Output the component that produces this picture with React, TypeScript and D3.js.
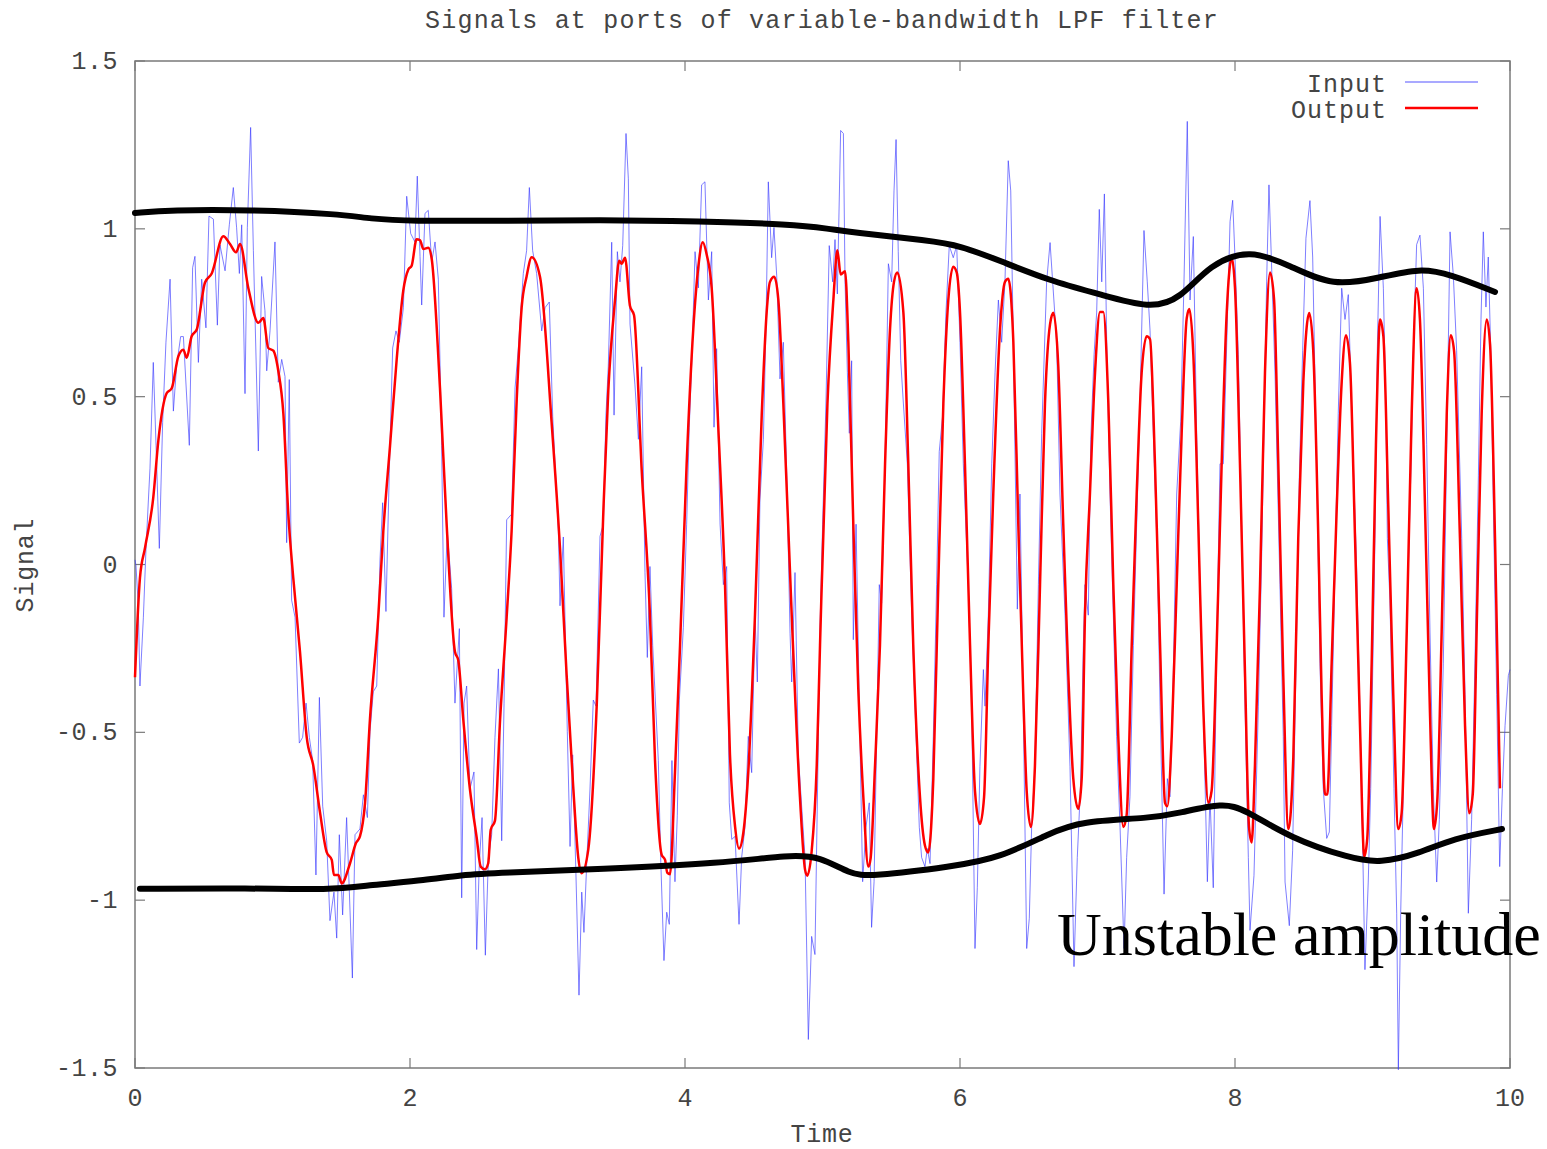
import React from 'react';
import * as d3 from 'd3';

// Values: [time, signal]
const xTicks = [0, 2, 4, 6, 8, 10];
const yTicks = [-1.5, -1, -0.5, 0, 0.5, 1, 1.5];

const inputSignal: [number, number][] = [
  [0, 0.014], [0.007, -0.003], [0.024, -0.123], [0.036, -0.362], [0.061, -0.157], [0.08, 0.048],
  [0.109, 0.287], [0.133, 0.602], [0.153, 0.355], [0.177, 0.048], [0.201, 0.423], [0.225, 0.662],
  [0.255, 0.85], [0.279, 0.457], [0.303, 0.594], [0.332, 0.679], [0.352, 0.679], [0.395, 0.355],
  [0.419, 0.884], [0.436, 0.918], [0.461, 0.602], [0.485, 0.85], [0.516, 0.705], [0.538, 1.038],
  [0.57, 1.029], [0.599, 0.713], [0.618, 0.952], [0.655, 0.875], [0.686, 1.012], [0.715, 1.123],
  [0.739, 1.003], [0.759, 0.867], [0.776, 1.012], [0.8, 0.509], [0.817, 1.003], [0.841, 1.302],
  [0.861, 0.935], [0.897, 0.338], [0.921, 0.858], [0.945, 0.756], [0.958, 0.577], [0.982, 0.696],
  [1.018, 0.961], [1.042, 0.543], [1.067, 0.611], [1.091, 0.56], [1.103, 0.065], [1.122, 0.551],
  [1.139, -0.106], [1.164, -0.157], [1.195, -0.532], [1.219, -0.515], [1.244, -0.413], [1.268, -0.515],
  [1.292, -0.584], [1.316, -0.925], [1.341, -0.396], [1.365, -0.72], [1.394, -0.823], [1.418, -1.061],
  [1.447, -0.976], [1.467, -1.113], [1.486, -0.805], [1.51, -1.044], [1.539, -0.754], [1.559, -0.976],
  [1.581, -1.232], [1.6, -0.805], [1.636, -0.788], [1.661, -0.686], [1.69, -0.754], [1.709, -0.498],
  [1.733, -0.379], [1.758, -0.362], [1.782, 0.014], [1.801, 0.184], [1.825, -0.14], [1.849, 0.27],
  [1.874, 0.645], [1.898, 0.696], [1.922, 0.662], [1.952, 0.765], [1.976, 1.097], [2.005, 0.986],
  [2.036, 0.961], [2.053, 1.157], [2.073, 0.918], [2.085, 0.773], [2.109, 1.046], [2.133, 1.055],
  [2.158, 0.901], [2.182, 0.961], [2.206, 0.85], [2.23, 0.355], [2.247, -0.157], [2.271, 0.099],
  [2.303, -0.072], [2.327, -0.413], [2.359, -0.191], [2.376, -0.993], [2.393, -0.413], [2.412, -0.362],
  [2.436, -0.669], [2.465, -0.618], [2.485, -1.147], [2.504, -0.891], [2.524, -0.754], [2.548, -1.164],
  [2.57, -0.874], [2.594, -0.805], [2.618, -0.515], [2.643, -0.311], [2.667, -0.823], [2.684, -0.413],
  [2.703, 0.133], [2.739, 0.15], [2.764, 0.526], [2.788, 0.645], [2.824, 0.867], [2.848, 0.935],
  [2.868, 1.123], [2.892, 0.935], [2.921, 0.867], [2.958, 0.696], [2.982, 0.765], [3.013, 0.782],
  [3.038, 0.44], [3.079, 0.099], [3.091, -0.123], [3.115, 0.082], [3.144, -0.498], [3.164, -0.84],
  [3.183, -0.567], [3.207, -0.925], [3.229, -1.283], [3.249, -0.976], [3.265, -1.096], [3.285, -0.891],
  [3.309, -0.669], [3.333, -0.404], [3.353, -0.422], [3.382, 0.084], [3.406, 0.12], [3.425, 0.445],
  [3.442, 0.589], [3.467, 0.96], [3.484, 0.445], [3.508, 0.932], [3.527, 0.842], [3.547, 0.95],
  [3.571, 1.284], [3.588, 1.149], [3.6, 0.716], [3.636, 0.535], [3.661, 0.373], [3.685, 0.589],
  [3.709, -0.024], [3.726, -0.277], [3.745, -0.006], [3.765, -0.241], [3.806, -0.584], [3.823, -0.873],
  [3.847, -1.18], [3.867, -1.036], [3.886, -1.072], [3.905, -0.584], [3.927, -0.945], [3.944, -0.747],
  [3.959, -0.404], [3.988, -0.187], [4.012, 0.12], [4.031, 0.409], [4.051, 0.625], [4.073, 0.932],
  [4.097, 0.824], [4.121, 1.131], [4.145, 1.14], [4.17, 0.788], [4.194, 0.932], [4.211, 0.409],
  [4.23, 0.643], [4.255, 0.12], [4.279, -0.06], [4.303, -0.006], [4.322, -0.71], [4.34, -0.819],
  [4.364, -0.81], [4.393, -1.072], [4.412, -0.873], [4.436, -0.783], [4.46, -0.512], [4.485, -0.62],
  [4.509, -0.151], [4.526, -0.35], [4.545, 0.192], [4.57, 0.373], [4.589, 0.716], [4.606, 1.14],
  [4.63, 0.914], [4.647, 1.004], [4.667, 0.86], [4.691, 0.553], [4.715, 0.662], [4.74, 0.264],
  [4.764, -0.205], [4.776, -0.35], [4.8, -0.024], [4.824, -0.566], [4.841, -0.674], [4.873, -0.873],
  [4.897, -1.415], [4.921, -1.108], [4.945, -1.162], [4.97, -0.512], [4.982, -0.187], [5.001, 0.12],
  [5.025, 0.481], [5.049, 0.95], [5.074, 0.842], [5.091, 0.968], [5.108, 0.806], [5.132, 1.293],
  [5.152, 1.284], [5.164, 0.842], [5.181, 0.571], [5.195, 0.391], [5.212, 0.607], [5.224, -0.224],
  [5.244, 0.12], [5.268, -0.422], [5.292, -0.945], [5.316, -0.783], [5.34, -0.71], [5.357, -1.081],
  [5.375, -0.945], [5.394, -0.512], [5.413, -0.06], [5.43, -0.115], [5.455, 0.3], [5.479, 0.896],
  [5.503, 0.842], [5.52, 1.113], [5.535, 1.266], [5.551, 0.932], [5.569, 0.607], [5.588, 0.481],
  [5.617, 0.3], [5.649, -0.151], [5.673, -0.422], [5.704, -0.783], [5.721, -0.873], [5.745, -0.9],
  [5.762, -0.846], [5.782, -0.891], [5.806, -0.512], [5.83, -0.06], [5.849, 0.336], [5.874, 0.445],
  [5.898, 0.752], [5.922, 0.95], [5.951, 0.914], [5.976, 0.95], [6.0, 0.662], [6.024, 0.3],
  [6.06, -0.06], [6.085, -0.422], [6.109, -1.144], [6.126, -0.963], [6.145, -0.602], [6.17, -0.313],
  [6.182, -0.422], [6.206, -0.151], [6.231, 0.3], [6.255, 0.571], [6.279, 0.788], [6.303, 0.662],
  [6.327, 0.842], [6.351, 1.203], [6.369, 1.113], [6.388, 0.662], [6.417, -0.133], [6.436, 0.21],
  [6.46, -0.422], [6.485, -1.144], [6.504, -1.054], [6.521, -0.783], [6.545, -0.602], [6.57, -0.06],
  [6.594, 0.391], [6.63, 0.842], [6.655, 0.959], [6.674, 0.842], [6.703, 0.662], [6.727, 0.21],
  [6.764, -0.151], [6.8, -0.602], [6.829, -1.198], [6.853, -0.873], [6.877, -0.656], [6.897, -0.241],
  [6.909, -0.06], [6.933, -0.151], [6.951, 0.373], [6.975, 0.625], [6.994, 0.752], [7.013, 1.058],
  [7.031, 0.842], [7.05, 1.104], [7.067, 0.662], [7.091, 0.21], [7.115, -0.151], [7.139, -0.512],
  [7.164, -0.783], [7.193, -1.144], [7.212, -0.873], [7.236, -0.692], [7.261, -0.241], [7.285, 0.12],
  [7.309, 0.481], [7.338, 0.995], [7.362, 0.842], [7.382, 0.698], [7.406, 0.391], [7.435, 0.03],
  [7.455, -0.422], [7.484, -0.982], [7.508, -0.638], [7.527, -0.692], [7.551, -0.331], [7.576, 0.21],
  [7.605, 0.427], [7.629, 0.842], [7.653, 1.32], [7.673, 0.788], [7.697, 0.977], [7.721, 0.391],
  [7.745, -0.06], [7.769, -0.422], [7.799, -0.945], [7.818, -0.692], [7.842, -0.963], [7.867, -0.241],
  [7.891, 0.3], [7.915, 0.3], [7.94, 0.662], [7.964, 1.022], [7.983, 1.085], [8.0, 0.914],
  [8.024, 0.625], [8.048, 0.12], [8.073, -0.422], [8.097, -0.873], [8.109, -1.09], [8.138, -0.927],
  [8.17, -0.422], [8.194, 0.03], [8.218, 0.571], [8.23, 0.842], [8.247, 1.131], [8.267, 0.878],
  [8.291, 0.571], [8.327, -0.06], [8.351, -0.512], [8.364, -0.946], [8.395, -1.076], [8.419, -0.853],
  [8.444, -0.294], [8.468, 0.264], [8.492, 0.637], [8.516, 0.972], [8.545, 1.084], [8.565, 0.916],
  [8.582, 0.544], [8.599, 0.171], [8.618, -0.294], [8.642, -0.667], [8.667, -0.816], [8.686, -0.797],
  [8.703, -0.48], [8.727, -0.015], [8.751, 0.451], [8.776, 0.823], [8.8, 0.73], [8.824, 0.804],
  [8.849, 0.451], [8.885, -0.015], [8.921, -0.667], [8.945, -1.207], [8.969, -0.946], [8.987, -0.667],
  [9.018, 0.078], [9.035, 0.637], [9.055, 1.037], [9.079, 0.823], [9.098, 0.451], [9.108, 0.078],
  [9.127, -0.108], [9.156, -0.667], [9.176, -1.039], [9.188, -1.505], [9.205, -1.039], [9.224, -0.667],
  [9.249, -0.201], [9.278, 0.264], [9.297, 0.637], [9.321, 0.953], [9.345, 0.981], [9.37, 0.823],
  [9.394, 0.358], [9.418, -0.201], [9.442, -0.667], [9.467, -0.946], [9.486, -0.76], [9.515, -0.294],
  [9.54, 0.358], [9.564, 0.991], [9.588, 0.86], [9.612, 0.637], [9.649, 0.078], [9.673, -0.387],
  [9.697, -1.039], [9.721, -0.76], [9.745, -0.294], [9.77, 0.264], [9.789, 0.73], [9.806, 0.991],
  [9.825, 0.767], [9.842, 0.916], [9.86, 0.637], [9.879, 0.171], [9.903, -0.387], [9.925, -0.9],
  [9.945, -0.667], [9.964, -0.48], [9.988, -0.331], [10.0, -0.313],
];

const outputSignal: [number, number][] = [
  [0, -0.336], [0.036, -0.04], [0.073, 0.05], [0.133, 0.2], [0.17, 0.37], [0.23, 0.51],
  [0.267, 0.525], [0.315, 0.62], [0.351, 0.64], [0.376, 0.616], [0.412, 0.68], [0.449, 0.7],
  [0.509, 0.84], [0.558, 0.867], [0.642, 0.978], [0.691, 0.955], [0.735, 0.93], [0.764, 0.955],
  [0.824, 0.824], [0.897, 0.72], [0.933, 0.734], [0.969, 0.645], [1.006, 0.637], [1.042, 0.577],
  [1.079, 0.449], [1.115, 0.15], [1.151, -0.04], [1.2, -0.26], [1.249, -0.515], [1.297, -0.6],
  [1.345, -0.737], [1.394, -0.857], [1.431, -0.88], [1.447, -0.925], [1.479, -0.925], [1.503, -0.95],
  [1.564, -0.89], [1.607, -0.83], [1.636, -0.81], [1.673, -0.71], [1.709, -0.46], [1.769, -0.157],
  [1.806, 0.1], [1.855, 0.355], [1.903, 0.61], [1.951, 0.816], [1.988, 0.879], [2.012, 0.89],
  [2.048, 0.969], [2.073, 0.966], [2.097, 0.94], [2.133, 0.944], [2.158, 0.91], [2.218, 0.526],
  [2.267, 0.116], [2.327, -0.26], [2.351, -0.285], [2.388, -0.464], [2.436, -0.67], [2.485, -0.814],
  [2.514, -0.9], [2.545, -0.908], [2.569, -0.89], [2.587, -0.79], [2.618, -0.763], [2.655, -0.464],
  [2.703, -0.157], [2.739, 0.1], [2.776, 0.49], [2.812, 0.765], [2.848, 0.858], [2.885, 0.915],
  [2.945, 0.858], [3.03, 0.423], [3.091, 0.048], [3.139, -0.328], [3.188, -0.669], [3.224, -0.874],
  [3.248, -0.92], [3.297, -0.848], [3.358, -0.42], [3.406, 0.156], [3.442, 0.517], [3.491, 0.788],
  [3.522, 0.905], [3.539, 0.896], [3.564, 0.914], [3.6, 0.77], [3.629, 0.743], [3.685, 0.282],
  [3.745, -0.15], [3.782, -0.584], [3.83, -0.864], [3.855, -0.88], [3.871, -0.918], [3.891, -0.923],
  [3.927, -0.62], [3.964, -0.24], [4.012, 0.3], [4.06, 0.7], [4.097, 0.887], [4.129, 0.96],
  [4.158, 0.923], [4.194, 0.824], [4.242, 0.41], [4.291, -0.06], [4.327, -0.566], [4.364, -0.78],
  [4.393, -0.846], [4.424, -0.8], [4.46, -0.62], [4.509, -0.15], [4.558, 0.445], [4.594, 0.752],
  [4.618, 0.842], [4.649, 0.857], [4.679, 0.788], [4.715, 0.481], [4.776, -0.15], [4.836, -0.693],
  [4.873, -0.909], [4.889, -0.927], [4.921, -0.855], [4.958, -0.6], [4.982, -0.24], [5.036, 0.48],
  [5.079, 0.788], [5.108, 0.936], [5.132, 0.864], [5.164, 0.874], [5.188, 0.663], [5.224, 0.12],
  [5.26, -0.368], [5.297, -0.693], [5.333, -0.9], [5.35, -0.875], [5.382, -0.6], [5.418, -0.24],
  [5.455, 0.3], [5.491, 0.7], [5.52, 0.842], [5.544, 0.87], [5.588, 0.752], [5.624, 0.3],
  [5.66, -0.24], [5.709, -0.693], [5.745, -0.837], [5.769, -0.858], [5.806, -0.638], [5.842, -0.06],
  [5.879, 0.48], [5.915, 0.788], [5.951, 0.887], [5.976, 0.87], [6.0, 0.752], [6.036, 0.3],
  [6.073, -0.24], [6.109, -0.675], [6.145, -0.773], [6.175, -0.693], [6.206, -0.24], [6.242, 0.21],
  [6.291, 0.7], [6.327, 0.842], [6.351, 0.851], [6.388, 0.663], [6.424, 0.12], [6.46, -0.386],
  [6.485, -0.675], [6.516, -0.782], [6.545, -0.6], [6.582, -0.06], [6.618, 0.48], [6.655, 0.716],
  [6.679, 0.75], [6.715, 0.589], [6.751, 0.12], [6.788, -0.33], [6.824, -0.638], [6.86, -0.728],
  [6.885, -0.638], [6.909, -0.15], [6.945, 0.21], [6.982, 0.571], [7.018, 0.752], [7.042, 0.752],
  [7.079, 0.48], [7.115, -0.06], [7.151, -0.511], [7.188, -0.782], [7.212, -0.746], [7.249, -0.24],
  [7.285, 0.21], [7.321, 0.571], [7.358, 0.68], [7.382, 0.671], [7.418, 0.3], [7.455, -0.24],
  [7.491, -0.71], [7.508, -0.72], [7.54, -0.511], [7.576, -0.06], [7.612, 0.39], [7.649, 0.734],
  [7.668, 0.761], [7.697, 0.625], [7.733, 0.12], [7.769, -0.42], [7.806, -0.71], [7.83, -0.674],
  [7.867, -0.24], [7.903, 0.3], [7.94, 0.752], [7.976, 0.914], [8.0, 0.824], [8.036, 0.3],
  [8.073, -0.33], [8.102, -0.782], [8.121, -0.828], [8.145, -0.6], [8.182, -0.06], [8.218, 0.571],
  [8.255, 0.87], [8.284, 0.79], [8.315, 0.3], [8.351, -0.33], [8.388, -0.788], [8.424, -0.574],
  [8.46, 0.078], [8.497, 0.544], [8.54, 0.749], [8.569, 0.637], [8.606, 0.078], [8.63, -0.387],
  [8.655, -0.685], [8.671, -0.685], [8.703, -0.294], [8.74, 0.17], [8.776, 0.544], [8.807, 0.683],
  [8.836, 0.6], [8.873, 0.078], [8.909, -0.48], [8.94, -0.87], [8.962, -0.815], [8.994, -0.294],
  [9.025, 0.357], [9.055, 0.73], [9.079, 0.68], [9.115, 0.17], [9.151, -0.387], [9.188, -0.788],
  [9.212, -0.74], [9.249, -0.2], [9.285, 0.45], [9.321, 0.823], [9.345, 0.73], [9.382, 0.17],
  [9.418, -0.443], [9.447, -0.788], [9.471, -0.704], [9.503, -0.2], [9.54, 0.45], [9.569, 0.683],
  [9.593, 0.637], [9.636, 0.078], [9.673, -0.48], [9.704, -0.741], [9.729, -0.685], [9.762, -0.108],
  [9.794, 0.45], [9.831, 0.73], [9.855, 0.655], [9.891, 0.078], [9.927, -0.667],
];

const upperEnvelope: [number, number][] = [
  [0, 1.047], [0.255, 1.056], [0.836, 1.057], [1.491, 1.044], [1.709, 1.03], [2.0, 1.023],
  [2.655, 1.024], [3.382, 1.027], [4.109, 1.022], [4.764, 1.014], [5.055, 1.0], [5.2, 0.99],
  [5.782, 0.965], [6.0, 0.95], [6.291, 0.905], [6.655, 0.845], [7.018, 0.805], [7.382, 0.762],
  [7.6, 0.79], [7.818, 0.895], [8.109, 0.94], [8.4, 0.89], [8.713, 0.827], [9.055, 0.855],
  [9.345, 0.883], [9.564, 0.865], [9.891, 0.812],
];

const lowerEnvelope: [number, number][] = [
  [0.036, -0.966], [0.836, -0.964], [1.418, -0.97], [1.709, -0.955], [2.124, -0.94], [2.364, -0.925],
  [2.655, -0.918], [3.382, -0.908], [4.276, -0.89], [4.764, -0.865], [4.982, -0.87], [5.2, -0.922],
  [5.345, -0.93], [5.949, -0.9], [6.291, -0.874], [6.655, -0.8], [6.873, -0.765], [7.382, -0.756],
  [7.6, -0.74], [7.913, -0.71], [8.073, -0.73], [8.4, -0.815], [8.836, -0.875], [9.055, -0.89],
  [9.345, -0.86], [9.585, -0.816], [9.942, -0.788],
];

const mono = "'Liberation Mono', 'DejaVu Sans Mono', monospace";
const axisColor = '#7a7a7a';
const textColor = '#444';

export default function App() {
  const x = d3.scaleLinear().domain([0, 10]).range([135, 1510]);
  const y = d3.scaleLinear().domain([-1.5, 1.5]).range([1068, 61]);
  const [x0, x1] = x.range();
  const [y0, y1] = y.range();
  const tickLen = 10;

  const rough = d3.line<[number, number]>().x(d => x(d[0])).y(d => y(d[1]));
  const smooth = d3.line<[number, number]>().x(d => x(d[0])).y(d => y(d[1])).curve(d3.curveMonotoneX);
  const envelope = d3.line<[number, number]>().x(d => x(d[0])).y(d => y(d[1])).curve(d3.curveBasis);

  return (
    <svg width={1547} height={1149} style={{ position: 'absolute', left: 0, top: 0, background: '#fff' }}>
      <text x={822} y={28} textAnchor="middle" fontFamily={mono} fontSize={25} letterSpacing={1.2} fill={textColor}>
        Signals at ports of variable-bandwidth LPF filter
      </text>

      {/* frame and mirrored ticks */}
      <rect x={x0} y={y1} width={x1 - x0} height={y0 - y1} fill="none" stroke={axisColor} strokeWidth={1.5} />
      {xTicks.map(t => (
        <g key={'x' + t}>
          <line x1={x(t)} x2={x(t)} y1={y0} y2={y0 - tickLen} stroke={axisColor} strokeWidth={1.2} />
          <line x1={x(t)} x2={x(t)} y1={y1} y2={y1 + tickLen} stroke={axisColor} strokeWidth={1.2} />
          <text x={x(t)} y={1106} textAnchor="middle" fontFamily={mono} fontSize={25} fill={textColor}>{t}</text>
        </g>
      ))}
      {yTicks.map(t => (
        <g key={'y' + t}>
          <line x1={x0} x2={x0 + tickLen} y1={y(t)} y2={y(t)} stroke={axisColor} strokeWidth={1.2} />
          <line x1={x1} x2={x1 - tickLen} y1={y(t)} y2={y(t)} stroke={axisColor} strokeWidth={1.2} />
          <text x={118} y={y(t) + 8} textAnchor="end" fontFamily={mono} fontSize={25} letterSpacing={0.5} fill={textColor}>{String(t)}</text>
        </g>
      ))}
      <text x={822} y={1142} textAnchor="middle" fontFamily={mono} fontSize={25} letterSpacing={0.8} fill={textColor}>Time</text>
      <text transform="translate(33,565) rotate(-90)" textAnchor="middle" fontFamily={mono} fontSize={25} letterSpacing={0.8} fill={textColor}>Signal</text>

      {/* series */}
      <path d={rough(inputSignal) ?? ''} fill="none" stroke="#3a3aff" strokeOpacity={0.65} strokeWidth={1} />
      <path d={smooth(outputSignal) ?? ''} fill="none" stroke="#ff0000" strokeWidth={2.5} strokeLinejoin="round" />
      <path d={envelope(upperEnvelope) ?? ''} fill="none" stroke="#000" strokeWidth={6} strokeLinecap="round" />
      <path d={envelope(lowerEnvelope) ?? ''} fill="none" stroke="#000" strokeWidth={6} strokeLinecap="round" />

      {/* legend */}
      <text x={1387} y={92} textAnchor="end" fontFamily={mono} fontSize={25} letterSpacing={1} fill={textColor}>Input</text>
      <line x1={1405} x2={1478} y1={82} y2={82} stroke="#8c8cff" strokeWidth={1.5} />
      <text x={1387} y={118} textAnchor="end" fontFamily={mono} fontSize={25} letterSpacing={1} fill={textColor}>Output</text>
      <line x1={1405} x2={1478} y1={108} y2={108} stroke="#ff0000" strokeWidth={2.5} />

      <text x={1057} y={955} fontFamily="'Liberation Serif', 'Times New Roman', serif" fontSize={62} fill="#000">
        Unstable amplitude
      </text>
    </svg>
  );
}
